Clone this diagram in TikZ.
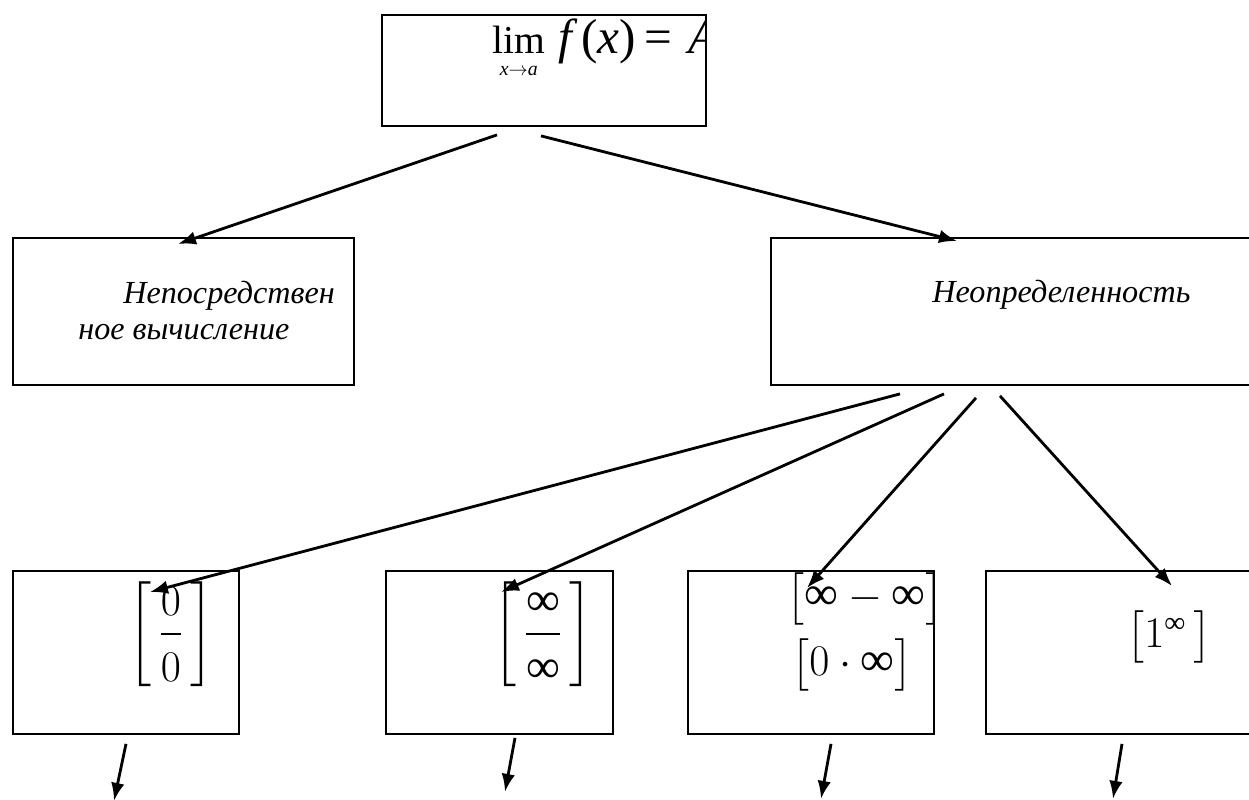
\documentclass[tikz,border=0pt]{standalone}
\usepackage{amsmath}
\usepackage{fontspec}
\setmainfont{Liberation Serif}
\usetikzlibrary{calc,arrows.meta}
\newcommand{\infsym}{\text{∞}}
\tikzset{box/.style={draw, line width=1.1pt, inner sep=0pt, anchor=north west}}
\tikzset{arr/.style={line width=1.6pt, -{Latex[length=0.36cm,width=0.27cm]}}}
\tikzset{lbl/.style={inner sep=0pt, anchor=base west, font=\fontsize{18.3}{22}\selectfont\itshape}}
\tikzset{frm/.style n args={2}{inner sep=0pt, font=\fontsize{#1}{#2}\selectfont}}

\begin{document}
\begin{tikzpicture}[x=0.02cm,y=-0.02cm]
		\useasboundingbox (0,0) rectangle (1249,800);
		\clip (0,0) rectangle (1249,800);
		% boxes
		\node[box, minimum width=6.48cm, minimum height=2.22cm] (lim) at (381,14) {};
		\node[box, minimum width=6.82cm, minimum height=2.94cm] (direct) at (12,237) {};
		\node[box, minimum width=10cm, minimum height=2.94cm] (indet) at (770,237) {};
		\node[box, minimum width=4.52cm, minimum height=3.26cm] (b1) at (12,570) {};
		\node[box, minimum width=4.54cm, minimum height=3.26cm] (b2) at (385,570) {};
		\node[box, minimum width=4.92cm, minimum height=3.26cm] (b3) at (687,570) {};
		\node[box, minimum width=7cm, minimum height=3.26cm] (b4) at (985,570) {};
		% texts
		\begin{scope}
			\clip (lim.north west) rectangle (lim.south east);
			\node[frm={22.5}{27}, anchor=base west] (limtext) at (492,54) {$\displaystyle\lim_{\scriptscriptstyle\rule{0pt}{9pt}\mathit{x}\to\mathit{a}}$};
			\node[frm={28}{34}, anchor=base west] (ftext) at (558,54) {\textit{f}\kern2pt(\textit{x})\kern5pt=\kern9pt\textit{A}};
		\end{scope}
		\node[lbl] (directa) at (123,304) {Непосредствен};
		\node[lbl] (directb) at (78,340) {ное вычисление};
		\node[lbl] (indettext) at (932,303) {Неопределенность};
		\node[frm={23}{28}] (zz) at (171,634) {$\left[\,\displaystyle\frac{0}{\rule{0pt}{23.5pt}0}\,\right]$};
		\node[frm={27}{32}] (ii) at (543,634) {$\left[\,\displaystyle\frac{\infsym}{\rule{0pt}{24pt}\infsym}\,\right]$};
		\node[frm={27}{32}] (imi) at (865,599) {$\bigl[\infsym-\infsym\bigr]$};
		\node[frm={27}{32}] (zi) at (852,665) {$\bigl[0\cdot\infsym\bigr]$};
		\node[frm={24}{29}] (oi) at (1169,637) {$\bigl[1^{\infsym}\,\bigr]$};
		% arrows
		\draw[arr] ($(lim.south west)+(116,8)$) -- ($(direct.north west)+(166,7)$);
		\draw[arr] ($(lim.south west)+(160,9)$) -- ($(indet.north west)+(187,4)$);
		\draw[arr] ($(indet.south west)+(130,8)$) -- ($(b1.north west)+(138,22)$);
		\draw[arr] ($(indet.south west)+(174,8)$) -- ($(b2.north west)+(116,22)$);
		\draw[arr] ($(indet.south west)+(206,12)$) -- ($(b3.north west)+(120,18)$);
		\draw[arr] ($(indet.south west)+(230,10)$) -- ($(b4.north west)+(187,16)$);
		\foreach \b/\sx/\sy/\ex/\ey in {b1/114/9/102/66, b2/130/3/120/57, b3/144/9/134/64, b4/137/9/128/64}
		{\coordinate (\b end) at ($(\b.south west)+(\ex,\ey)$);
			\draw[arr] ($(\b.south west)+(\sx,\sy)$) -- (\b end);
		}
\end{tikzpicture}
\end{document}
